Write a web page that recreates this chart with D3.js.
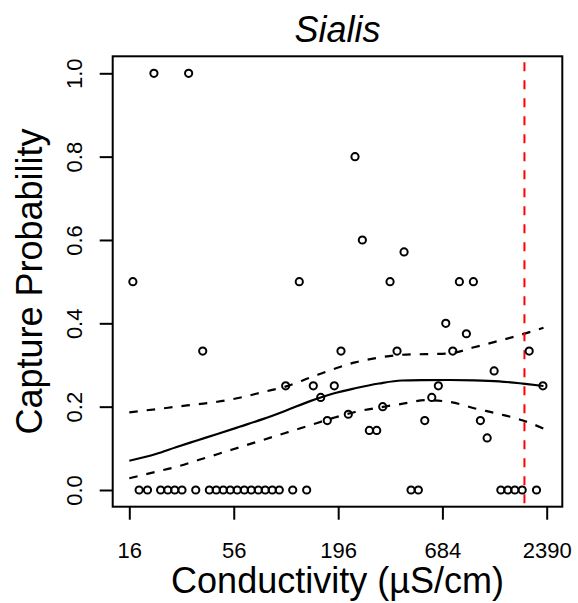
<!DOCTYPE html>
<html>
<head>
<meta charset="utf-8">
<script src="https://cdn.jsdelivr.net/npm/d3@7"></script>
<style>
  html, body { margin: 0; padding: 0; background: #fff; }
  svg { display: block; }
  text { font-family: "Liberation Sans", Arial, Helvetica, sans-serif; fill: #000; }
</style>
</head>
<body>
<div id="chart"></div>
<script>
// ---- data ----
const chartTitle = "Sialis";
const xLabel = "Conductivity (µS/cm)";
const yLabel = "Capture Probability";
const xTicks = [16, 56, 196, 684, 2390];
const yTicks = [0, 0.2, 0.4, 0.6, 0.8, 1.0];
const thresholdConductivity = 1830;

// observed sites: conductivity (µS/cm) and capture probability
const siteConductivity = [
  21.5, 32.6,
  239.8,
  261.9,
  431.9,
  16.7, 122.9, 365.1, 838.6, 992,
  712.3,
  912.1,
  38.6, 202.7, 397.1, 774.7, 1937,
  1272,
  104.4, 145.4, 187.0, 651.6, 2284,
  158.9, 602.1,
  334.4,
  221.3,
  172.0, 553.6, 1079,
  284.8, 311.1,
  1170,
  18.0, 19.9, 23.3, 25.4, 27.6, 30.1, 35.5, 41.8, 45.4, 49.4, 53.7, 58.4,
  63.6, 69.1, 75.2, 81.7, 88.9, 96.7, 113.6, 134.3, 469.7, 512.6,
  1379, 1500, 1631, 1781, 2115
];
const siteCapture = [
  1, 1,
  0.8,
  0.6,
  0.5714,
  0.5, 0.5, 0.5, 0.5, 0.5,
  0.4,
  0.375,
  0.3333, 0.3333, 0.3333, 0.3333, 0.3333,
  0.2857,
  0.25, 0.25, 0.25, 0.25, 0.25,
  0.2222, 0.2222,
  0.2,
  0.1818,
  0.1667, 0.1667, 0.1667,
  0.1429, 0.1429,
  0.125,
  0, 0, 0, 0, 0, 0, 0, 0, 0, 0, 0, 0,
  0, 0, 0, 0, 0, 0, 0, 0, 0, 0,
  0, 0, 0, 0, 0
];

// fitted curve with confidence band
const fitConductivity = [16, 22, 28, 36, 46, 60, 80, 105, 140, 185, 240, 320, 420, 560, 750, 1000, 1350, 1800, 2300];
const fitProb  = [0.0703, 0.0864, 0.1027, 0.1188, 0.1344, 0.1517, 0.1706, 0.1908, 0.2133, 0.2316, 0.2441, 0.2556, 0.2628, 0.2637, 0.2640, 0.2633, 0.2609, 0.2553, 0.2496];
const fitUpper = [0.1865, 0.1939, 0.1997, 0.2057, 0.2117, 0.2213, 0.2354, 0.2486, 0.2697, 0.2901, 0.3062, 0.3177, 0.3245, 0.3261, 0.3281, 0.3425, 0.3581, 0.3741, 0.3893];
const fitLower = [0.0281, 0.0437, 0.0554, 0.0708, 0.0859, 0.1025, 0.1205, 0.1375, 0.1555, 0.1730, 0.1872, 0.1980, 0.2066, 0.2155, 0.2112, 0.1963, 0.1824, 0.1668, 0.1476];

// ---- layout ----
const W = 578, H = 603;
const box = { left: 112.7, right: 562.3, top: 56.3, bottom: 506.7 };

const svg = d3.select("#chart").append("svg")
  .attr("width", W).attr("height", H);

const x = d3.scaleLog().domain([16, 2390]).range([129.3, 546.7]);
const y = d3.scaleLinear().domain([0, 1]).range([490, 73.3]);

// fitted lines
const line = (vals) => d3.line()
  .curve(d3.curveMonotoneX)
  .x((d, i) => x(fitConductivity[i]))
  .y((d) => y(d))(vals);

svg.append("path").attr("d", line(fitProb))
  .attr("fill", "none").attr("stroke", "#000").attr("stroke-width", 2.2);
[fitUpper, fitLower].forEach(v => {
  svg.append("path").attr("d", line(v))
    .attr("fill", "none").attr("stroke", "#000").attr("stroke-width", 2.2)
    .attr("stroke-dasharray", "8.5,9");
});

// threshold line
svg.append("line")
  .attr("x1", x(thresholdConductivity)).attr("x2", x(thresholdConductivity))
  .attr("y1", box.top).attr("y2", box.bottom)
  .attr("stroke", "#ff0000").attr("stroke-width", 2)
  .attr("stroke-dasharray", "9,9").attr("stroke-dashoffset", -6);

// points
svg.append("g").selectAll("circle")
  .data(siteConductivity.map((c, i) => [c, siteCapture[i]]))
  .join("circle")
  .attr("cx", d => x(d[0])).attr("cy", d => y(d[1]))
  .attr("r", 3.6)
  .attr("fill", "none").attr("stroke", "#000").attr("stroke-width", 2);

// box
svg.append("rect")
  .attr("x", box.left).attr("y", box.top)
  .attr("width", box.right - box.left).attr("height", box.bottom - box.top)
  .attr("fill", "none").attr("stroke", "#000").attr("stroke-width", 2);

// x axis
const gx = svg.append("g").attr("transform", `translate(0,${box.bottom})`)
  .call(d3.axisBottom(x).tickValues(xTicks).tickFormat(d3.format("d"))
    .tickSize(13).tickSizeOuter(0));
gx.select(".domain").remove();
gx.selectAll(".tick line").attr("stroke", "#000").attr("stroke-width", 2);
gx.selectAll(".tick text")
  .attr("y", 51).attr("dy", null)
  .attr("font-size", 22).attr("fill", "#000")
  .style("font-family", '"Liberation Sans", Arial, Helvetica, sans-serif');

// y axis
const gy = svg.append("g").attr("transform", `translate(${box.left},0)`)
  .call(d3.axisLeft(y).tickValues(yTicks).tickFormat(d3.format(".1f"))
    .tickSize(13).tickSizeOuter(0));
gy.select(".domain").remove();
gy.selectAll(".tick line").attr("stroke", "#000").attr("stroke-width", 2);
gy.selectAll(".tick text")
  .attr("x", null).attr("y", null).attr("dy", null)
  .attr("transform", "translate(-31,0) rotate(-90)")
  .attr("text-anchor", "middle")
  .attr("font-size", 22).attr("fill", "#000")
  .style("font-family", '"Liberation Sans", Arial, Helvetica, sans-serif');

// titles
svg.append("text")
  .attr("x", (box.left + box.right) / 2).attr("y", 593)
  .attr("text-anchor", "middle").attr("font-size", 36)
  .text(xLabel);

svg.append("text")
  .attr("transform", `translate(41.5,${(box.top + box.bottom) / 2}) rotate(-90)`)
  .attr("text-anchor", "middle").attr("font-size", 36)
  .text(yLabel);

svg.append("text")
  .attr("x", (box.left + box.right) / 2).attr("y", 42)
  .attr("text-anchor", "middle").attr("font-size", 36)
  .attr("font-style", "italic")
  .text(chartTitle);
</script>
</body>
</html>
